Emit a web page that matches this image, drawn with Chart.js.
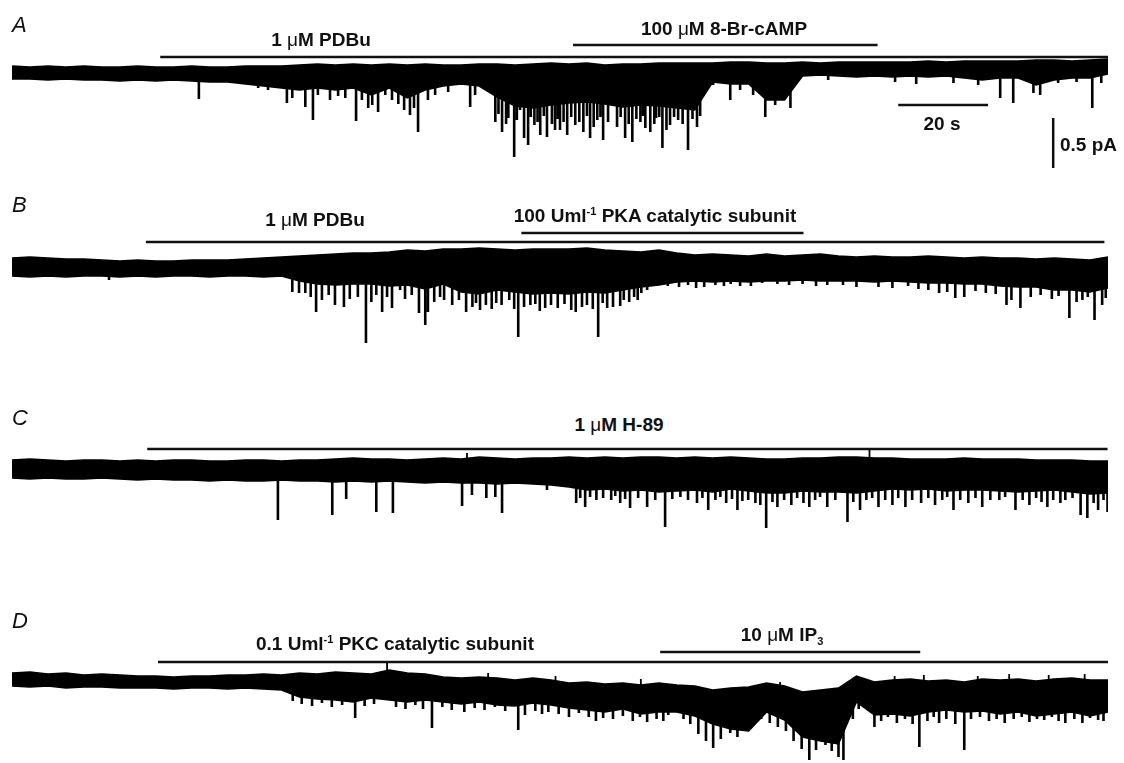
<!DOCTYPE html>
<html>
<head>
<meta charset="utf-8">
<script src="https://cdn.jsdelivr.net/npm/chart.js@4.4.0/dist/chart.umd.min.js"></script>
<style>
  body { margin:0; background:#fff; }
  #fig { position:relative; width:1124px; height:763px; overflow:hidden; background:#fff; }
  canvas { position:absolute; left:0; }
  .lbl { position:absolute; font:bold 19px "Liberation Sans", Arial, sans-serif; line-height:19px; white-space:nowrap; color:#111; }
  .c { transform:translateX(-50%); }
  .mu { font-weight:normal; }
  .panel { position:absolute; left:12px; font:italic 22px "Liberation Sans", Arial, sans-serif; line-height:22px; color:#111; }
  sup { font-size:11px; vertical-align:7px; line-height:0; }
  sub { font-size:11px; vertical-align:-4px; line-height:0; }
</style>
</head>
<body>
<div id="fig">
  <canvas id="cA" width="1124" height="165" style="top:10px"></canvas>
  <canvas id="cB" width="1124" height="125" style="top:225px"></canvas>
  <canvas id="cC" width="1124" height="95" style="top:440px"></canvas>
  <canvas id="cD" width="1124" height="118" style="top:645px"></canvas>

  <div class="panel" style="top:14px">A</div>
  <div class="lbl c" style="left:321px; top:30px">1 <span class="mu">μ</span>M PDBu</div>
  <div class="lbl c" style="left:724px; top:19px">100 <span class="mu">μ</span>M 8-Br-cAMP</div>
  <div class="lbl c" style="left:942px; top:114px">20 s</div>
  <div class="lbl" style="left:1060px; top:135px">0.5 pA</div>

  <div class="panel" style="top:194px">B</div>
  <div class="lbl c" style="left:315px; top:210px">1 <span class="mu">μ</span>M PDBu</div>
  <div class="lbl c" style="left:655px; top:206px">100 Uml<sup>-1</sup> PKA catalytic subunit</div>

  <div class="panel" style="top:407px">C</div>
  <div class="lbl c" style="left:619px; top:415px">1 <span class="mu">μ</span>M H-89</div>

  <div class="panel" style="top:610px">D</div>
  <div class="lbl c" style="left:395px; top:634px">0.1 Uml<sup>-1</sup> PKC catalytic subunit</div>
  <div class="lbl c" style="left:782px; top:625px">10 <span class="mu">μ</span>M IP<sub>3</sub></div>
</div>
<script>
// sample times of the envelope (s)
const times = [0,4,8,12,16,20,24,28,32,36,40,44,48,52,56,60,64,68,72,76,80,84,88,92,96,100,
  104,108,112,116,120,124,128,132,136,140,144,148,152,156,160,164,168,172,176,180,184,188,192,196,
  200,204,208,212,216,220,224,228,232,236,240,244];

// trace A: upper / lower edge of the noise band (pA, relative to baseline)
const aTop = [0.06,0.05,0.06,0.05,0.06,0.05,0.05,0.06,0.05,0.05,0.06,0.05,0.05,0.06,0.06,0.06,0.07,0.08,0.07,0.08,
  0.07,0.08,0.07,0.08,0.07,0.07,0.08,0.08,0.07,0.08,0.09,0.08,0.09,0.07,0.08,0.08,0.09,0.09,0.09,0.09,
  0.10,0.10,0.09,0.09,0.10,0.09,0.10,0.10,0.10,0.10,0.10,0.11,0.10,0.11,0.11,0.11,0.11,0.12,0.12,0.11,0.12,0.13];
const aBot = [-0.07,-0.07,-0.08,-0.07,-0.08,-0.08,-0.09,-0.08,-0.09,-0.08,-0.09,-0.10,-0.10,-0.12,-0.14,-0.16,
  -0.18,-0.16,-0.18,-0.16,-0.23,-0.16,-0.26,-0.18,-0.14,-0.12,-0.14,-0.25,-0.34,-0.36,-0.33,-0.31,-0.30,-0.32,
  -0.35,-0.33,-0.34,-0.36,-0.38,-0.10,-0.12,-0.12,-0.28,-0.28,-0.04,-0.03,-0.04,-0.05,-0.04,-0.05,-0.04,-0.05,
  -0.04,-0.06,-0.08,-0.06,-0.06,-0.13,-0.08,-0.06,-0.06,-0.02];
// events: [time s, peak pA]
const aEvents = [[41.6,-0.27],[54.8,-0.16],[57.0,-0.18],[61.2,-0.31],[62.4,-0.26],[65.3,-0.35],[67.0,-0.48],
  [68.1,-0.23],[70.8,-0.28],[72.6,-0.24],[74.2,-0.26],[76.6,-0.49],[77.9,-0.28],[79.3,-0.36],[80.2,-0.33],
  [81.5,-0.40],[83.1,-0.23],[84.6,-0.28],[86.0,-0.32],[87.3,-0.38],[88.6,-0.43],[89.5,-0.36],[90.4,-0.60],
  [92.6,-0.28],[94.2,-0.23],[97.1,-0.20],[102.0,-0.35],[103.1,-0.23],[107.6,-0.50],[108.3,-0.42],[109.1,-0.60],
  [110.0,-0.52],[110.5,-0.46],[111.8,-0.85],[112.4,-0.48],[113.1,-0.38],[114.0,-0.66],[114.9,-0.73],[115.5,-0.45],
  [116.3,-0.53],[117.0,-0.50],[117.6,-0.63],[118.4,-0.44],[119.1,-0.65],[120.2,-0.52],[120.9,-0.58],[121.5,-0.47],
  [122.0,-0.58],[122.8,-0.50],[123.6,-0.63],[124.5,-0.45],[125.4,-0.53],[126.3,-0.50],[127.2,-0.60],[128.0,-0.44],
  [128.7,-0.66],[129.5,-0.55],[130.3,-0.48],[131.0,-0.45],[131.6,-0.68],[132.7,-0.50],[133.8,-0.33],[134.7,-0.55],
  [135.5,-0.45],[136.5,-0.66],[137.3,-0.52],[138.1,-0.70],[139.0,-0.47],[139.9,-0.50],[140.5,-0.44],[141.0,-0.56],
  [142.1,-0.60],[143.0,-0.52],[143.4,-0.46],[144.1,-0.45],[144.8,-0.76],[145.7,-0.58],[146.5,-0.53],[147.4,-0.45],
  [148.3,-0.48],[149.3,-0.52],[150.5,-0.78],[151.5,-0.47],[152.5,-0.55],[153.2,-0.44],[156.1,-0.13],[159.9,-0.28],
  [162.1,-0.18],[165.0,-0.23],[167.7,-0.45],[169.9,-0.33],[173.3,-0.36],[181.7,-0.08],[196.6,-0.10],[201.3,-0.12],
  [209.6,-0.11],[215.1,-0.13],[220.0,-0.26],[222.9,-0.31],[227.4,-0.21],[228.9,-0.23],[232.9,-0.11],[237.0,-0.10],
  [240.5,-0.36],[242.5,-0.11]];
const aUp = [];
const aDrugs = [[33.0,244],[124.9,192.7]];   // PDBu, 8-Br-cAMP (start, end s)

// trace B
const bTop = [0.09,0.10,0.09,0.08,0.08,0.07,0.06,0.07,0.06,0.06,0.07,0.07,0.07,0.08,0.09,0.10,0.11,0.12,0.13,0.14,
  0.14,0.15,0.17,0.16,0.18,0.18,0.19,0.18,0.17,0.18,0.18,0.18,0.19,0.17,0.16,0.15,0.17,0.14,0.12,0.13,
  0.12,0.11,0.13,0.11,0.12,0.13,0.11,0.10,0.11,0.10,0.10,0.11,0.10,0.09,0.10,0.09,0.09,0.08,0.09,0.08,0.07,0.10];
const bBot = [-0.09,-0.10,-0.09,-0.10,-0.09,-0.09,-0.10,-0.09,-0.10,-0.09,-0.09,-0.10,-0.09,-0.09,-0.10,-0.09,
  -0.14,-0.17,-0.18,-0.17,-0.17,-0.19,-0.18,-0.22,-0.17,-0.25,-0.27,-0.23,-0.25,-0.27,-0.26,-0.27,-0.25,-0.26,
  -0.23,-0.20,-0.18,-0.15,-0.14,-0.15,-0.14,-0.15,-0.14,-0.14,-0.13,-0.14,-0.14,-0.14,-0.15,-0.14,-0.15,-0.16,
  -0.16,-0.17,-0.17,-0.19,-0.20,-0.20,-0.23,-0.23,-0.25,-0.21];
const bEvents = [[21.6,-0.13],[62.4,-0.25],[63.9,-0.26],[65.3,-0.26],[66.5,-0.30],[67.7,-0.45],[69.0,-0.33],
  [70.5,-0.28],[71.9,-0.38],[73.9,-0.40],[75.2,-0.32],[77.0,-0.30],[78.8,-0.76],[80.0,-0.35],[81.1,-0.28],
  [82.4,-0.45],[83.5,-0.30],[84.6,-0.41],[86.4,-0.23],[87.5,-0.32],[89.0,-0.28],[90.6,-0.46],[92.0,-0.58],
  [92.6,-0.45],[94.0,-0.35],[95.3,-0.30],[96.2,-0.33],[98.0,-0.38],[99.5,-0.33],[101.1,-0.45],[102.5,-0.40],
  [103.3,-0.36],[104.2,-0.43],[105.5,-0.38],[106.8,-0.42],[107.8,-0.36],[109.0,-0.38],[110.7,-0.33],[111.8,-0.42],
  [112.7,-0.70],[114.0,-0.40],[115.4,-0.38],[116.5,-0.37],[117.5,-0.44],[118.7,-0.41],[120.0,-0.38],[121.5,-0.41],
  [123.0,-0.37],[124.5,-0.43],[125.5,-0.45],[126.9,-0.40],[128.0,-0.38],[129.3,-0.42],[130.5,-0.70],[131.5,-0.36],
  [132.5,-0.41],[133.8,-0.40],[135.4,-0.39],[136.2,-0.33],[137.4,-0.35],[138.5,-0.30],[139.3,-0.33],[140.1,-0.26],
  [141.4,-0.23],[146.0,-0.19],[148.5,-0.20],[150.5,-0.18],[152.3,-0.21],[154.1,-0.20],[156.6,-0.18],[158.5,-0.19],
  [160.0,-0.17],[162.1,-0.19],[164.5,-0.19],[167.0,-0.16],[170.4,-0.17],[173.0,-0.18],[176.0,-0.17],[179.0,-0.19],
  [181.5,-0.18],[185.0,-0.18],[188.0,-0.20],[192.9,-0.20],[196.0,-0.21],[199.5,-0.19],[201.8,-0.22],[204.0,-0.23],
  [206.4,-0.26],[208.2,-0.25],[210.0,-0.31],[212.0,-0.30],[214.5,-0.24],[216.8,-0.26],[219.0,-0.27],[221.4,-0.38],
  [222.5,-0.33],[224.5,-0.41],[226.8,-0.30],[229.0,-0.28],[231.5,-0.32],[233.0,-0.29],[235.4,-0.51],[237.0,-0.35],
  [238.3,-0.33],[239.5,-0.30],[241.0,-0.53],[242.7,-0.38],[243.5,-0.31]];
const bUp = [];
const bDrugs = [[29.8,243.2],[113.4,176.2]];   // PDBu, PKA catalytic subunit

// trace C
const cTop = [0.09,0.10,0.09,0.08,0.09,0.09,0.08,0.09,0.08,0.09,0.09,0.08,0.08,0.09,0.09,0.08,0.09,0.09,0.10,0.11,
  0.10,0.10,0.09,0.10,0.11,0.10,0.12,0.11,0.10,0.11,0.11,0.12,0.11,0.12,0.11,0.12,0.12,0.11,0.12,0.11,
  0.12,0.11,0.10,0.10,0.11,0.11,0.12,0.12,0.11,0.11,0.10,0.10,0.10,0.11,0.10,0.10,0.10,0.09,0.09,0.09,0.08,0.08];
const cBot = [-0.09,-0.10,-0.09,-0.10,-0.10,-0.09,-0.10,-0.11,-0.10,-0.11,-0.11,-0.12,-0.11,-0.12,-0.12,-0.11,
  -0.12,-0.12,-0.13,-0.12,-0.13,-0.12,-0.13,-0.14,-0.13,-0.14,-0.14,-0.15,-0.14,-0.15,-0.16,
  -0.18,-0.21,-0.20,-0.22,-0.21,-0.23,-0.22,-0.21,-0.23,-0.20,-0.22,-0.24,-0.24,-0.22,-0.23,-0.23,-0.24,-0.22,
  -0.20,-0.21,-0.20,-0.22,-0.21,-0.21,-0.22,-0.23,-0.22,-0.21,-0.23,-0.25,-0.24];
const cEvents = [[59.2,-0.51],[71.3,-0.46],[74.4,-0.30],[81.1,-0.43],[84.8,-0.44],[100.2,-0.37],[102.4,-0.26],
  [105.6,-0.29],[107.6,-0.28],[109.1,-0.44],[119.1,-0.21],[125.6,-0.34],[126.5,-0.29],[127.6,-0.38],[128.7,-0.28],
  [130.1,-0.31],[131.6,-0.29],[133.4,-0.31],[134.3,-0.27],[135.4,-0.34],[136.5,-0.30],[137.6,-0.39],[139.4,-0.29],
  [141.4,-0.38],[143.2,-0.31],[145.4,-0.58],[147.0,-0.30],[148.8,-0.28],[150.5,-0.31],[152.5,-0.34],[153.7,-0.29],
  [155.0,-0.41],[156.6,-0.31],[157.7,-0.28],[159.0,-0.34],[160.3,-0.30],[161.5,-0.41],[162.6,-0.32],[163.9,-0.31],
  [165.5,-0.34],[166.6,-0.36],[167.9,-0.59],[169.3,-0.33],[170.4,-0.38],[171.9,-0.31],[173.5,-0.36],[174.8,-0.29],
  [176.2,-0.34],[177.5,-0.38],[178.8,-0.31],[179.9,-0.28],[181.5,-0.38],[183.3,-0.31],[186.0,-0.53],[187.3,-0.33],
  [188.8,-0.41],[190.2,-0.31],[191.5,-0.29],[192.9,-0.38],[194.4,-0.31],[196.0,-0.36],[197.3,-0.29],[198.9,-0.38],
  [200.4,-0.31],[202.4,-0.34],[204.0,-0.29],[205.5,-0.36],[207.1,-0.31],[208.2,-0.28],[209.6,-0.41],[211.1,-0.31],
  [212.9,-0.34],[214.5,-0.29],[216.0,-0.38],[217.8,-0.31],[219.8,-0.31],[221.1,-0.28],[223.4,-0.41],[225.0,-0.31],
  [226.5,-0.36],[228.0,-0.29],[229.2,-0.33],[230.5,-0.38],[231.8,-0.31],[233.4,-0.34],[234.5,-0.31],[236.1,-0.29],
  [237.9,-0.46],[239.4,-0.49],[240.8,-0.34],[241.8,-0.41],[243.0,-0.31],[243.9,-0.43]];
const cUp = [[101.3,0.16],[190.9,0.20]];
const cDrugs = [[30.1,243.9]];   // H-89

// trace D
const dTop = [0.06,0.07,0.05,0.06,0.04,0.05,0.04,0.03,0.03,0.02,0.03,0.03,0.04,0.04,0.05,0.04,0.06,0.05,0.07,0.06,
  0.05,0.09,0.06,0.05,0.02,0.01,0.02,0.01,-0.01,0.01,-0.01,-0.04,-0.03,-0.05,-0.04,-0.06,-0.04,-0.06,-0.07,-0.11,
  -0.09,-0.08,-0.04,-0.07,-0.13,-0.11,-0.09,0.03,-0.03,-0.01,0.00,-0.02,-0.01,-0.03,0.00,-0.01,0.00,-0.02,0.00,0.01,-0.01,-0.01];
const dBot = [-0.07,-0.08,-0.07,-0.09,-0.08,-0.08,-0.09,-0.09,-0.09,-0.10,-0.09,-0.09,-0.10,-0.09,-0.10,-0.11,
  -0.18,-0.20,-0.21,-0.23,-0.19,-0.21,-0.23,-0.21,-0.23,-0.25,-0.23,-0.26,-0.27,-0.24,-0.26,-0.29,-0.31,-0.33,
  -0.30,-0.35,-0.33,-0.33,-0.37,-0.45,-0.50,-0.52,-0.33,-0.41,-0.58,-0.62,-0.65,-0.23,-0.36,-0.35,-0.37,-0.33,
  -0.31,-0.33,-0.32,-0.35,-0.33,-0.37,-0.35,-0.33,-0.37,-0.33];
const dEvents = [[62.5,-0.22],[64.5,-0.25],[66.8,-0.27],[69.0,-0.24],[71.2,-0.28],[73.5,-0.26],[76.4,-0.39],
  [78.5,-0.27],[80.6,-0.25],[85.5,-0.28],[87.6,-0.30],[89.8,-0.26],[91.5,-0.30],[93.5,-0.49],[95.8,-0.28],
  [97.9,-0.31],[100.7,-0.33],[103.0,-0.29],[105.2,-0.31],[107.5,-0.28],[109.8,-0.32],[112.7,-0.51],[114.2,-0.36],
  [116.5,-0.32],[118.0,-0.35],[119.4,-0.33],[121.7,-0.35],[124.0,-0.38],[126.2,-0.34],[128.4,-0.38],[130.0,-0.42],
  [131.6,-0.39],[133.8,-0.40],[136.0,-0.37],[138.2,-0.42],[139.8,-0.38],[141.4,-0.43],[143.5,-0.40],[145.0,-0.42],
  [146.1,-0.36],[148.1,-0.31],[149.5,-0.40],[151.0,-0.45],[152.8,-0.55],[154.5,-0.62],[156.1,-0.69],[157.8,-0.60],
  [159.9,-0.54],[161.5,-0.58],[163.0,-0.51],[165.0,-0.45],[166.8,-0.40],[168.7,-0.44],[170.5,-0.48],[172.3,-0.52],
  [174.0,-0.62],[175.8,-0.70],[177.5,-0.81],[179.0,-0.71],[181.1,-0.66],[182.5,-0.72],[184.0,-0.78],[185.1,-0.81],
  [187.2,-0.40],[188.5,-0.30],[192.0,-0.48],[193.5,-0.42],[195.0,-0.38],[197.0,-0.44],[198.8,-0.40],[200.5,-0.45],
  [202.0,-0.68],[203.8,-0.42],[205.2,-0.38],[206.4,-0.44],[208.0,-0.40],[210.0,-0.45],[212.0,-0.71],[213.5,-0.40],
  [215.5,-0.38],[217.5,-0.42],[219.2,-0.40],[221.0,-0.44],[223.0,-0.40],[224.8,-0.38],[226.5,-0.43],[228.2,-0.40],
  [229.8,-0.41],[231.5,-0.38],[233.0,-0.42],[234.5,-0.44],[236.5,-0.40],[238.3,-0.44],[240.0,-0.39],[241.8,-0.41],
  [243.0,-0.42]];
const dUp = [[83.5,0.16],[106.0,0.06],[121.0,0.03],[140.0,0.00],[171.0,-0.03],[196.5,0.03],[203.0,0.04],
  [215.0,0.03],[222.0,0.05],[230.8,0.04],[238.8,0.05]];
const dDrugs = [[32.5,244],[144.3,202.2]];   // PKC catalytic subunit, IP3

// scale bars (drawn in panel A)
const scaleTime = 20;   // s
const scaleCurrent = 0.5; // pA

// ---- layout (pixels) ----
const PX_PER_PA = 100;
const T_MAX = 244;
const panels = [
  {id:'cA', top:10,  height:165, base:72,  tr:aTop, br:aBot, ev:aEvents, up:aUp, drugs:aDrugs, drugY:[57,45], evFrom:0, scale:true},
  {id:'cB', top:225, height:125, base:267, tr:bTop, br:bBot, ev:bEvents, up:bUp, drugs:bDrugs, drugY:[242,233], evFrom:0},
  {id:'cC', top:440, height:95,  base:469, tr:cTop, br:cBot, ev:cEvents, up:cUp, drugs:cDrugs, drugY:[449], evFrom:0},
  {id:'cD', top:645, height:118, base:679, tr:dTop, br:dBot, ev:dEvents, up:dUp, drugs:dDrugs, drugY:[662,652], evFrom:-0.15}
];

function series(vals) {
  return vals.map((v, i) => ({x: times[i], y: v}));
}
function sticks(list, from) {
  const pts = [];
  list.forEach(e => {
    pts.push({x:e[0], y:from}, {x:e[0], y:e[1]}, {x:e[0], y:null});
  });
  return pts;
}

const black = '#000';
panels.forEach(p => {
  const toPA = px => (p.base - px) / PX_PER_PA;
  const ds = [
    {data: series(p.tr), borderColor: black, backgroundColor: black, borderWidth: 1.5, fill: '+1'},
    {data: series(p.br), borderColor: black, borderWidth: 1.5, fill: false},
    {data: sticks(p.ev, p.evFrom), borderColor: black, borderWidth: 2.6, spanGaps: false, fill: false},
    {data: sticks(p.up, p.evFrom), borderColor: black, borderWidth: 1.8, spanGaps: false, fill: false}
  ];
  p.drugs.forEach((d, k) => {
    const y = toPA(p.drugY[k]);
    ds.push({data: [{x:d[0], y:y}, {x:d[1], y:y}], borderColor: '#111', borderWidth: 2.5, fill: false});
  });
  if (p.scale) {
    const x0 = 197.3, yH = toPA(105);
    ds.push({data: [{x:x0, y:yH}, {x:x0 + scaleTime, y:yH}], borderColor: '#111', borderWidth: 2.5, fill: false});
    const xv = 231.8, yv = toPA(118);
    ds.push({data: [{x:xv, y:yv}, {x:xv, y:yv - scaleCurrent}], borderColor: '#111', borderWidth: 2.5, fill: false});
  }
  new Chart(document.getElementById(p.id), {
    type: 'line',
    data: {datasets: ds},
    options: {
      animation: false,
      responsive: false,
      devicePixelRatio: 1,
      events: [],
      layout: {padding: {left: 12, right: 16, top: 0, bottom: 0}},
      scales: {
        x: {type: 'linear', min: 0, max: T_MAX, display: false},
        y: {type: 'linear', min: toPA(p.top + p.height), max: toPA(p.top), display: false}
      },
      elements: {point: {radius: 0}, line: {tension: 0, borderCapStyle: 'butt'}},
      plugins: {legend: {display: false}, tooltip: {enabled: false}}
    }
  });
});
</script>
</body>
</html>
